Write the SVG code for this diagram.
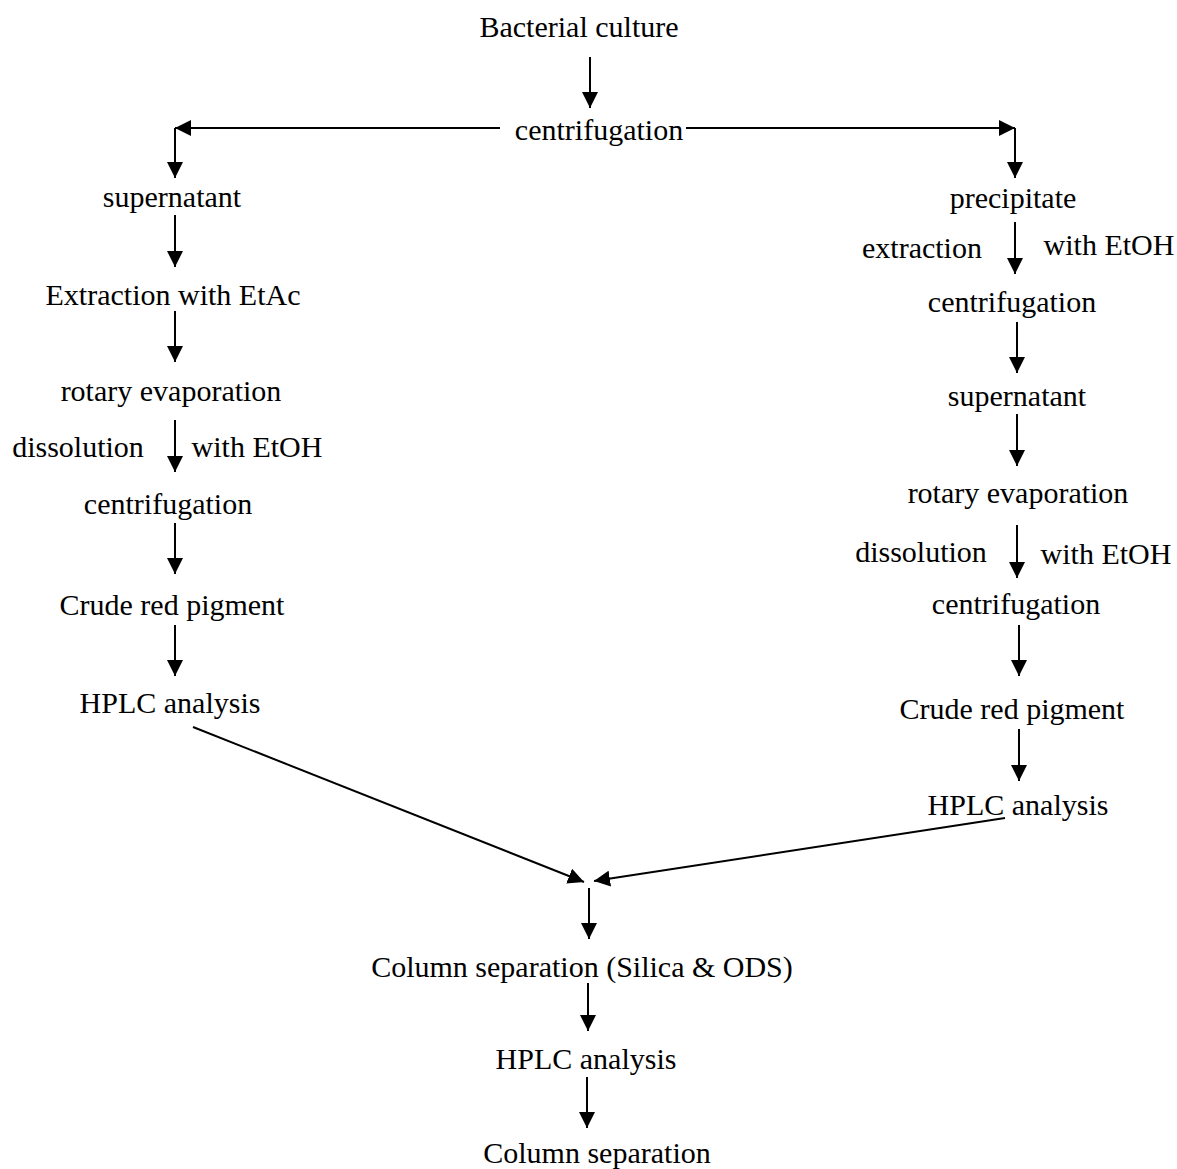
<svg xmlns="http://www.w3.org/2000/svg" width="1177" height="1169" viewBox="0 0 1177 1169">
<style>
text{font-family:"Liberation Serif","Times New Roman",serif;font-size:30px;fill:#000;text-anchor:middle}
.c line,.c path{stroke:#000;stroke-width:2;fill:none}
</style>
<defs>
<marker id="ah" markerUnits="userSpaceOnUse" markerWidth="18" markerHeight="16" refX="16" refY="8" orient="auto">
<path d="M0,0 L16,8 L0,16 Z" fill="#000"/>
</marker>
</defs>
<rect width="1177" height="1169" fill="#fff"/>
<g class="c" id="connectors">
<line x1="590" y1="57" x2="590" y2="108" marker-end="url(#ah)"/>
<path d="M500,128 H175" marker-end="url(#ah)"/>
<path d="M175,128 V178" marker-end="url(#ah)"/>
<path d="M686,128 H1015" marker-end="url(#ah)"/>
<path d="M1015,128 V178" marker-end="url(#ah)"/>
<line x1="175" y1="215" x2="175" y2="267" marker-end="url(#ah)"/>
<line x1="175" y1="311" x2="175" y2="362" marker-end="url(#ah)"/>
<line x1="175" y1="420" x2="175" y2="472" marker-end="url(#ah)"/>
<line x1="175" y1="523" x2="175" y2="574" marker-end="url(#ah)"/>
<line x1="175" y1="625" x2="175" y2="676" marker-end="url(#ah)"/>
<line x1="193" y1="727" x2="584" y2="882" marker-end="url(#ah)"/>
<line x1="1015" y1="222" x2="1015" y2="274" marker-end="url(#ah)"/>
<line x1="1017" y1="322" x2="1017" y2="373" marker-end="url(#ah)"/>
<line x1="1017" y1="414" x2="1017" y2="466" marker-end="url(#ah)"/>
<line x1="1017" y1="525" x2="1017" y2="578" marker-end="url(#ah)"/>
<line x1="1019" y1="625" x2="1019" y2="676" marker-end="url(#ah)"/>
<line x1="1019" y1="729" x2="1019" y2="781" marker-end="url(#ah)"/>
<line x1="1005" y1="818" x2="594" y2="881" marker-end="url(#ah)"/>
<line x1="589" y1="888" x2="589" y2="939" marker-end="url(#ah)"/>
<line x1="588" y1="983" x2="588" y2="1031" marker-end="url(#ah)"/>
<line x1="587" y1="1077" x2="587" y2="1128" marker-end="url(#ah)"/>
</g>
<g id="n-bacterial"><text x="579" y="37">Bacterial culture</text></g>
<g id="n-centrifugation0"><text x="599" y="140">centrifugation</text></g>
<g id="n-l-supernatant"><text x="172" y="207">supernatant</text></g>
<g id="n-l-extraction"><text x="173" y="305">Extraction with EtAc</text></g>
<g id="n-l-rotary"><text x="171" y="401">rotary evaporation</text></g>
<g id="n-l-dissolution"><text x="78" y="457">dissolution</text><text x="257" y="457">with EtOH</text></g>
<g id="n-l-centrifugation"><text x="168" y="514">centrifugation</text></g>
<g id="n-l-crude"><text x="172" y="615">Crude red pigment</text></g>
<g id="n-l-hplc"><text x="170" y="713">HPLC analysis</text></g>
<g id="n-r-precipitate"><text x="1013" y="208">precipitate</text></g>
<g id="n-r-extraction"><text x="922" y="258">extraction</text><text x="1109" y="255">with EtOH</text></g>
<g id="n-r-centrifugation1"><text x="1012" y="312">centrifugation</text></g>
<g id="n-r-supernatant"><text x="1017" y="406">supernatant</text></g>
<g id="n-r-rotary"><text x="1018" y="503">rotary evaporation</text></g>
<g id="n-r-dissolution"><text x="921" y="562">dissolution</text><text x="1106" y="564">with EtOH</text></g>
<g id="n-r-centrifugation2"><text x="1016" y="614">centrifugation</text></g>
<g id="n-r-crude"><text x="1012" y="719">Crude red pigment</text></g>
<g id="n-r-hplc"><text x="1018" y="815">HPLC analysis</text></g>
<g id="n-column1"><text x="582" y="977">Column separation (Silica &amp; ODS)</text></g>
<g id="n-hplc3"><text x="586" y="1069">HPLC analysis</text></g>
<g id="n-column2"><text x="597" y="1163">Column separation</text></g>
</svg>
